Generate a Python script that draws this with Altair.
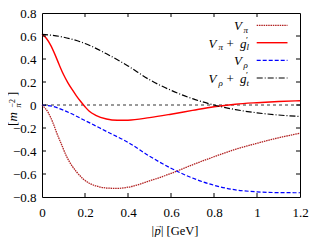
import altair as alt
import pandas as pd

# ---- data ----
p_vpi = [0, 0.03, 0.05, 0.07, 0.09, 0.115, 0.14, 0.16, 0.19, 0.22, 0.26, 0.30, 0.35, 0.40, 0.50, 0.60, 0.70, 0.80, 0.90, 1.00, 1.10, 1.20]
v_vpi = [0, -0.07, -0.15, -0.25, -0.34, -0.45, -0.53, -0.58, -0.64, -0.68, -0.708, -0.722, -0.725, -0.715, -0.66, -0.595, -0.52, -0.45, -0.385, -0.333, -0.285, -0.246]

p_vpig = [0, 0.02, 0.04, 0.06, 0.08, 0.10, 0.12, 0.14, 0.16, 0.18, 0.20, 0.22, 0.25, 0.30, 0.35, 0.40, 0.50, 0.60, 0.70, 0.80, 0.90, 1.00, 1.10, 1.20]
v_vpig = [0.615, 0.58, 0.52, 0.44, 0.35, 0.265, 0.195, 0.135, 0.08, 0.03, -0.015, -0.055, -0.09, -0.122, -0.133, -0.132, -0.11, -0.08, -0.047, -0.015, 0.007, 0.02, 0.03, 0.037]

p_vrho = [0, 0.05, 0.10, 0.20, 0.30, 0.40, 0.50, 0.60, 0.70, 0.80, 0.90, 1.00, 1.10, 1.20]
v_vrho = [0, -0.012, -0.045, -0.135, -0.23, -0.325, -0.445, -0.55, -0.635, -0.698, -0.738, -0.755, -0.762, -0.763]

p_vrhog = [0, 0.10, 0.20, 0.30, 0.40, 0.50, 0.60, 0.70, 0.80, 0.90, 1.00, 1.10, 1.20]
v_vrhog = [0.615, 0.59, 0.535, 0.445, 0.34, 0.22, 0.128, 0.055, 0.0, -0.04, -0.068, -0.087, -0.1]

x_ticks = [0, 0.2, 0.4, 0.6, 0.8, 1.0, 1.2]
y_ticks = [-0.8, -0.6, -0.4, -0.2, 0, 0.2, 0.4, 0.6, 0.8]
x_inner = [0.2, 0.4, 0.6, 0.8, 1.0]
y_inner = [-0.6, -0.4, -0.2, 0, 0.2, 0.4, 0.6]

FONT = "Liberation Serif"
W, H = 258, 184
OX, OY = 42, 13  # page position of plot origin

xs = alt.Scale(domain=[0, 1.2], nice=False, zero=False)
ys = alt.Scale(domain=[-0.8, 0.8], nice=False, zero=False)
xaxis = alt.Axis(values=x_ticks, format="~g", title=None, grid=False, ticks=False, tickSize=0,
                 domain=False, labelFont=FONT, labelFontSize=13, labelColor="black",
                 labelPadding=9, labelFlush=False, labelOverlap=False)
yaxis = alt.Axis(values=y_ticks, format="~g", title=None, grid=False, ticks=False, tickSize=0,
                 domain=False, labelFont=FONT, labelFontSize=13, labelColor="black",
                 labelPadding=6, labelFlush=False, labelOverlap=False)

dummy = pd.DataFrame({"d": [0]})
layers = []

# zero line
layers.append(alt.Chart(pd.DataFrame({"z": [0]})).mark_rule(color="black", strokeDash=[3, 3], strokeWidth=0.8)
              .encode(y=alt.Y("z:Q", scale=ys, axis=yaxis)))

def curve(p, v, color, dash, width):
    kw = dict(color=color, strokeWidth=width, interpolate="monotone")
    if dash:
        kw["strokeDash"] = dash
    return alt.Chart(pd.DataFrame({"p": p, "v": v})).mark_line(**kw).encode(
        x=alt.X("p:Q", scale=xs, axis=xaxis), y=alt.Y("v:Q", scale=ys, axis=yaxis))

styles = [
    ("#b22222", [1.5, 0.8], 1.3),
    ("#ff0000", None, 1.4),
    ("#0000ff", [4, 2], 1.2),
    ("#000000", [6, 2, 1, 2], 1.2),
]
for (p, v), st in zip([(p_vpi, v_vpi), (p_vpig, v_vpig), (p_vrho, v_vrho), (p_vrhog, v_vrhog)], styles):
    layers.append(curve(p, v, *st))

# inward ticks
tx = pd.DataFrame({"t": x_inner})
ty = pd.DataFrame({"t": y_inner})
layers.append(alt.Chart(tx).mark_rule(color="black").encode(x=alt.X("t:Q", scale=xs, axis=xaxis), y=alt.value(H), y2=alt.value(H - 4)))
layers.append(alt.Chart(tx).mark_rule(color="black").encode(x=alt.X("t:Q", scale=xs, axis=xaxis), y=alt.value(0), y2=alt.value(4)))
layers.append(alt.Chart(ty).mark_rule(color="black").encode(y=alt.Y("t:Q", scale=ys, axis=yaxis), x=alt.value(0), x2=alt.value(4)))
layers.append(alt.Chart(ty).mark_rule(color="black").encode(y=alt.Y("t:Q", scale=ys, axis=yaxis), x=alt.value(W), x2=alt.value(W - 4)))

def txt(s, x, y, fs, italic=False, angle=0):
    kw = dict(text=s, x=x - OX, y=y - OY, fontSize=fs, font=FONT, align="left",
              baseline="alphabetic", color="black")
    if italic:
        kw["fontStyle"] = "italic"
    if angle:
        kw["angle"] = angle
    return alt.Chart(dummy).mark_text(**kw).encode()

# legend samples
line_y = [25.3, 42.7, 60.3, 78.0]
for ly, (c, d, w) in zip(line_y, styles):
    kw = dict(color=c, strokeWidth=w)
    if d:
        kw["strokeDash"] = d
    layers.append(alt.Chart(dummy).mark_rule(**kw).encode(
        x=alt.value(256.7 - OX), x2=alt.value(287.5 - OX), y=alt.value(ly - OY)))

# legend labels
base = [30.3, 47.7, 65.3, 83.0]
subs = ["π", "π", "ρ", "ρ"]
gsub = [None, "l", None, "t"]
for b, s, g in zip(base, subs, gsub):
    if g is None:
        layers.append(txt("V", 234, b, 13, True))
        layers.append(txt(s, 243.5, b + 2.5, 9, True))
    else:
        layers.append(txt("V", 208.5, b, 13, True))
        layers.append(txt(s, 218.5, b + 2.5, 9, True))
        layers.append(txt("+", 226.5, b, 13))
        layers.append(txt("g", 240, b, 13, True))
        layers.append(txt("′", 246, b - 5, 9))
        layers.append(txt(g, 246.5, b + 2.5, 9, True))

# y title [m_pi^-2] rotated
layers.append(txt("[", 17, 126, 13, False, 270))
layers.append(txt("m", 17, 121.5, 13, True, 270))
layers.append(txt("π", 20.5, 107.5, 8.5, True, 270))
layers.append(txt("−2", 15, 107.5, 8, False, 270))
layers.append(txt("]", 17, 96, 13, False, 270))

# x title |p| [GeV]
layers.append(txt("|", 151.5, 235, 12.5))
layers.append(txt("p", 154.5, 235, 12.5, True))
layers.append(txt("→", 154.5, 228, 8))
layers.append(txt("|", 161, 235, 12.5))
layers.append(txt("[GeV]", 166.5, 235, 12.5))

chart = alt.layer(*layers).properties(
    width=W, height=H,
    autosize=alt.AutoSizeParams(type="none"),
    padding={"left": OX - 8, "top": OY - 8, "right": 12, "bottom": 40},
).configure_view(stroke="black", strokeWidth=1)

chart.save("out.html", embed_options={"renderer": "svg", "actions": False})
